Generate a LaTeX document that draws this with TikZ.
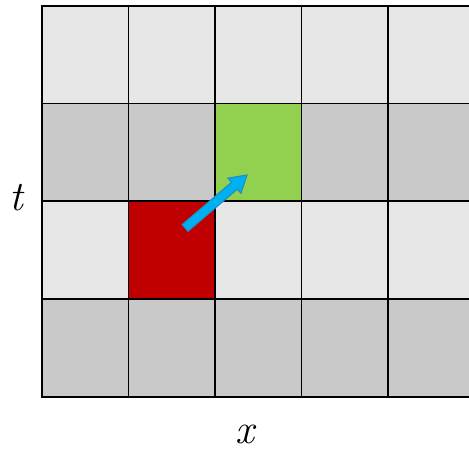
\documentclass[tikz,border=0pt]{standalone}
\usepackage{fontspec}
\begin{document}
\begin{tikzpicture}[x=1pt,y=1pt,
  cell/.style={draw=black,line width=1.5pt},
  light/.style={cell,fill=lightgray},
  dark/.style={cell,fill=darkgray},
  lbl/.style={inner sep=0pt,font=\fontsize{42}{48}\selectfont\itshape}]
\definecolor{lightgray}{HTML}{E6E6E6}
\definecolor{darkgray}{HTML}{C9C9C9}
\definecolor{cellred}{HTML}{C00000}
\definecolor{cellgreen}{HTML}{92D050}
\definecolor{arrowblue}{HTML}{00B0F0}
\definecolor{arrowedge}{HTML}{1C8CC0}
\useasboundingbox (0,0) rectangle (469,454);
\clip (0,0) rectangle (469,454);
\foreach \c/\xa/\xb in {1/42/128.5,2/128.5/215,3/215/301.5,4/301.5/388,5/388/474.5}{
  \path[light] (\xa,448) rectangle (\xb,350.5);
  \path[dark] (\xa,350.5) rectangle (\xb,253);
  \path[light] (\xa,253) rectangle (\xb,155);
  \path[dark] (\xa,155) rectangle (\xb,57);
}
\path[cell,fill=cellred] (128.5,253) rectangle (215,155);
\path[cell,fill=cellgreen] (215,350.5) rectangle (301.5,253);
\coordinate (tail) at (185,226);
\coordinate (tip) at (247,279);
\draw[draw=arrowedge,fill=arrowblue,line width=1pt,line join=miter,
      shift={(tail)},rotate=40.5]
  (0,-4.5) -- (65,-4.5) -- (65,-10) -- (81.6,0) -- (65,10) -- (65,4.5) -- (0,4.5) -- cycle;
\node[lbl] (t) at (16,256) {t};
\node[lbl,anchor=base,text depth=0pt] (x) at (245,10) {x};
\end{tikzpicture}
\end{document}
